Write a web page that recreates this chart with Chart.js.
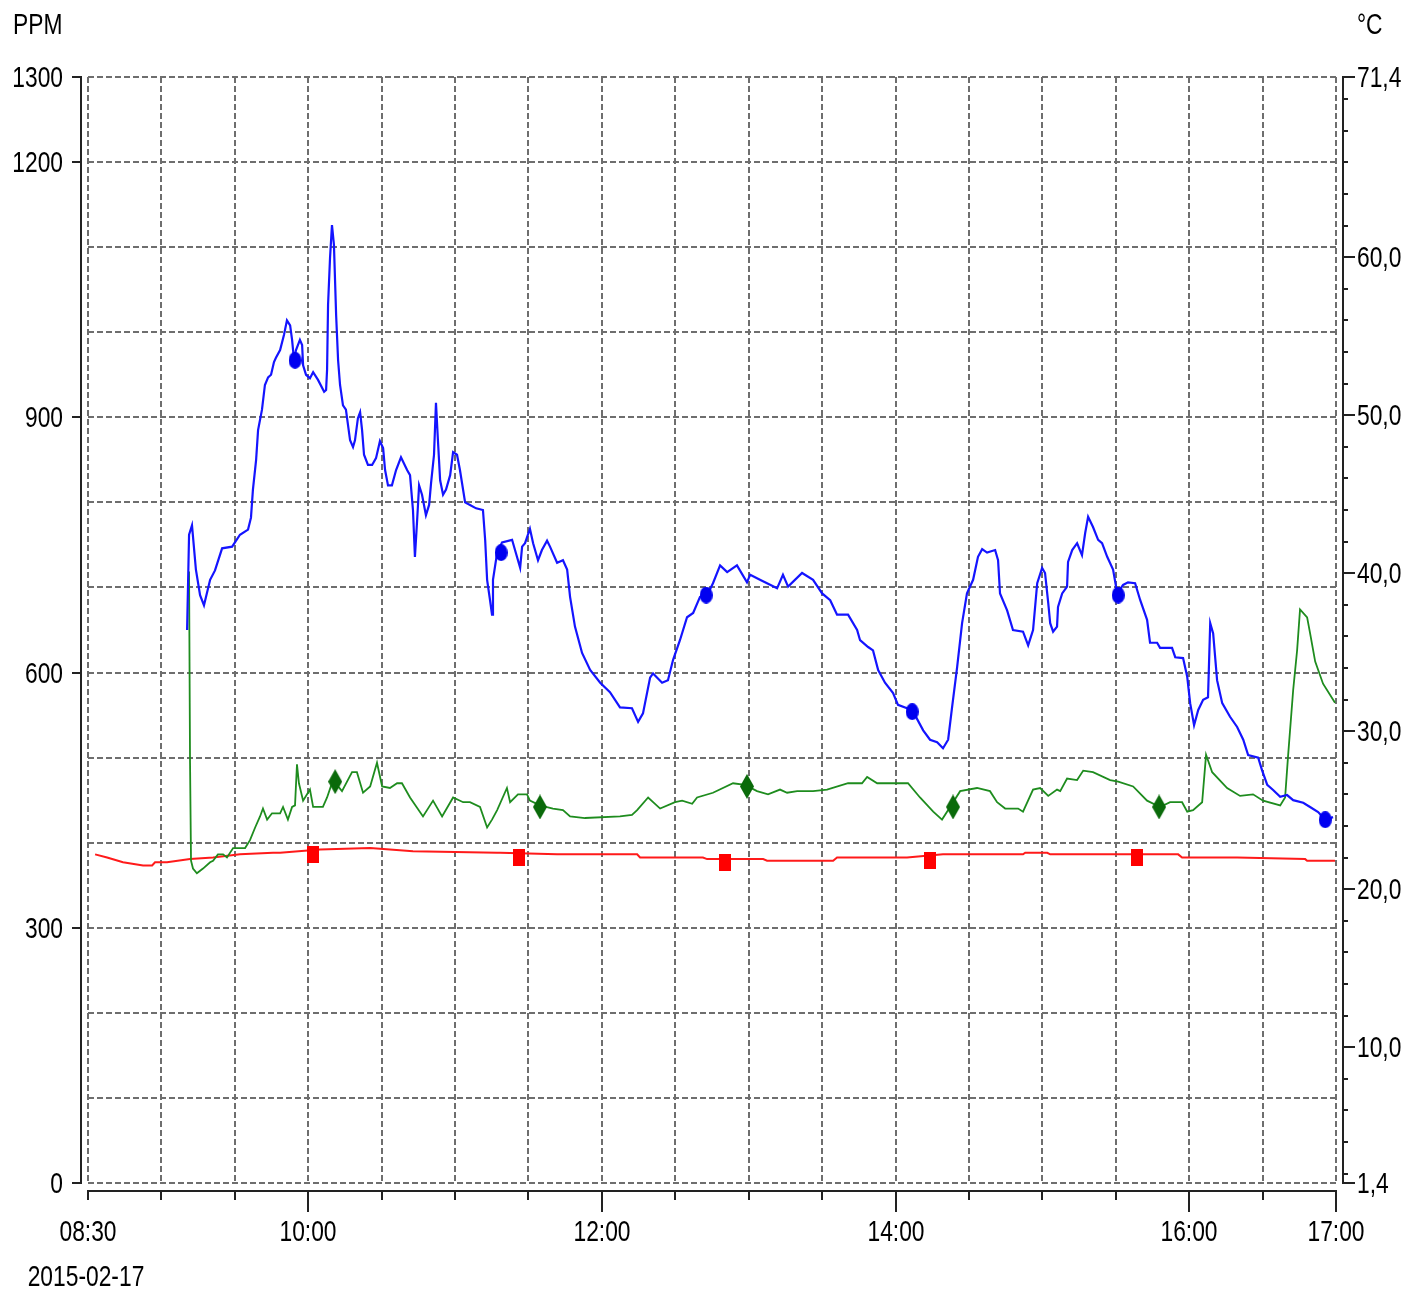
<!DOCTYPE html>
<html><head><meta charset="utf-8">
<script src="https://cdn.jsdelivr.net/npm/chart.js@4/dist/chart.umd.min.js"></script>
<style>html,body{margin:0;padding:0;background:#fff;}canvas{display:block;}</style>
</head><body>
<canvas id="c" width="1407" height="1296"></canvas>
<script>
// ---------- data (time = minutes after 08:30 on chartDate) ----------
const chartDate = '2015-02-17';
const xLabelMinutes = [0, 90, 210, 330, 450, 510];
const xLabelTexts = ['08:30', '10:00', '12:00', '14:00', '16:00', '17:00'];
const ppmLabelValues = [0, 300, 600, 900, 1200, 1300];
const tempLabelValues = [1.4, 10, 20, 30, 40, 50, 60, 71.4];

const co2Minutes = [40.5,41.3,42.5,44.1,45.8,47.4,49.9,51.9,54.8,58.9,62.1,65.4,66.6,67.4,68.7,69.5,71.1,72.3,73.6,74.8,76.0,76.8,78.5,80.1,81.3,82.6,83.4,84.2,85.0,86.6,87.5,87.9,89.1,90.7,92.0,94.0,96.5,97.3,97.7,98.1,98.9,99.7,100.5,101.4,102.2,103.0,104.2,105.4,107.1,108.3,109.1,110.3,111.2,112.0,112.8,114.4,116.1,117.7,119.3,120.6,121.4,122.6,124.2,125.9,127.9,130.4,131.6,132.8,133.6,134.5,135.3,136.5,138.1,139.4,140.2,141.4,142.2,143.0,143.9,145.1,146.3,148.0,149.2,150.8,152.0,154.1,156.1,158.6,161.4,162.3,163.1,164.3,165.1,165.5,167.2,169.2,173.3,174.5,176.6,177.4,178.6,180.6,181.9,183.9,185.5,187.6,188.8,191.7,194.1,195.8,197.0,199.0,201.9,205.2,209.3,213.3,217.4,222.3,224.8,226.8,229.7,230.9,234.6,237.0,239.1,241.9,244.8,247.3,250.1,253.0,255.4,258.3,261.2,265.2,269.3,270.6,274.6,281.6,284.0,286.1,291.8,296.3,300.0,303.3,306.1,310.6,314.3,315.5,318.8,320.8,322.9,325.7,329.0,331.0,334.7,337.2,341.3,344.1,347.0,349.4,351.5,353.1,355.2,357.2,359.2,361.7,363.7,365.4,367.4,370.7,371.9,372.7,375.6,378.0,382.1,384.2,386.2,387.9,389.9,391.1,392.4,393.2,394.4,396.0,396.4,398.1,400.1,400.5,402.2,404.2,406.2,407.5,408.7,410.7,412.8,414.4,416.5,418.9,420.6,423.0,425.0,427.9,430.0,432.8,434.0,436.9,438.1,443.0,444.3,447.5,449.2,450.4,452.0,453.7,455.7,457.7,458.6,459.8,461.4,463.5,466.7,469.6,472.1,474.1,478.2,479.8,481.9,484.3,487.2,490.0,492.5,496.6,499.4,502.7,505.6,508.8];
const co2Ppm = [650,762,773,721,691,679,709,720,746,748,762,768,782,815,850,885,909,938,947,950,965,970,979,997,1014,1008,991,967,979,991,985,961,950,946,953,944,930,932,956,1032,1087,1126,1103,1020,967,938,914,909,873,865,873,899,906,885,856,844,844,852,872,864,838,820,820,838,853,838,832,791,736,779,820,809,785,797,823,856,917,873,826,809,815,832,859,856,838,800,797,793,791,756,709,685,668,709,741,753,756,744,723,748,752,769,752,732,744,755,748,729,732,721,689,654,623,603,588,577,559,558,542,552,594,599,588,591,615,638,665,670,689,691,705,726,718,726,706,715,709,699,715,701,717,709,693,685,668,668,650,638,630,626,603,588,576,562,558,554,532,521,518,511,521,559,607,658,693,709,736,745,741,744,732,693,673,650,648,632,650,705,723,717,682,658,648,654,677,693,701,730,744,752,738,764,783,771,756,752,736,721,693,703,706,705,685,662,635,635,629,629,618,617,595,564,538,556,568,571,658,646,591,564,548,536,521,503,500,485,468,462,454,456,450,447,442,436,427,430];
const co2MarkMinutes = [84.6,168.8,252.6,336.8,421.0,505.6];
const co2MarkPpm = [967,741,691,554,691,427];

const greenMinutes = [41.3,41.7,42.1,42.9,44.5,47.0,49.9,51.1,53.1,55.2,56.8,59.3,64.2,66.2,68.3,70.3,71.5,73.2,75.2,78.5,79.7,81.7,83.4,84.6,85.4,86.2,87.9,90.7,92.0,96.0,97.7,100.1,103.8,107.9,109.9,112.4,115.3,118.1,120.2,123.4,126.3,128.3,131.6,136.9,141.0,144.7,149.2,153.3,156.1,160.2,163.1,165.1,167.2,171.2,172.5,175.7,179.4,180.6,184.7,190.0,194.1,197.0,203.1,217.4,222.3,224.4,228.9,233.8,239.9,242.8,246.9,248.9,255.4,263.6,268.5,273.4,277.9,282.8,285.7,289.8,296.3,302.0,310.6,316.3,318.4,322.5,329.0,335.1,340.0,345.4,349.0,352.3,356.4,363.3,368.6,371.5,374.8,380.1,382.1,386.2,389.1,392.4,396.0,397.3,400.1,404.2,406.7,410.7,417.7,421.0,427.1,432.8,438.1,442.2,447.1,449.2,451.6,455.3,456.9,459.4,465.5,470.8,476.1,480.2,487.2,489.2,490.4,492.5,494.1,495.3,498.2,499.4,501.5,504.7,509.6];
const greenTemp = [40.1,28.0,21.8,21.3,21.0,21.3,21.7,21.8,22.2,22.2,22.0,22.6,22.6,23.1,23.9,24.6,25.1,24.4,24.8,24.8,25.2,24.4,25.2,25.3,27.9,26.7,25.6,26.3,25.2,25.2,25.8,26.9,26.2,27.4,27.4,26.1,26.5,28.0,26.5,26.4,26.7,26.7,25.8,24.6,25.6,24.6,25.8,25.5,25.5,25.2,23.9,24.4,25.0,26.4,25.5,26.0,26.0,25.6,25.3,25.1,25.0,24.6,24.5,24.6,24.7,25.0,25.8,25.1,25.5,25.6,25.4,25.8,26.1,26.7,26.6,26.2,26.0,26.3,26.1,26.2,26.2,26.3,26.7,26.7,27.1,26.7,26.7,26.7,25.8,24.9,24.4,25.2,26.2,26.4,26.2,25.5,25.1,25.1,24.9,26.3,26.4,25.9,26.3,26.2,27.0,26.9,27.5,27.4,26.9,26.8,26.5,25.6,25.2,25.5,25.5,24.9,25.0,25.5,28.5,27.4,26.4,25.9,26.0,25.6,25.3,25.8,28.4,32.6,35.1,37.7,37.2,36.2,34.4,33.0,31.8];
const greenMarkMinutes = [101.0,184.7,269.3,353.5,437.7];
const greenMarkTemp = [26.8,25.2,26.5,25.2,25.2];

const redMinutes = [2.9,7.8,14.3,22.5,26.2,27.4,32.3,41.7,51.1,62.1,75.6,78.5,94.8,115.3,132.8,167.2,168.4,191.7,224.4,225.6,251.3,253.0,275.9,277.5,304.5,306.1,333.1,334.7,349.4,382.1,383.0,392.0,393.2,445.5,447.1,468.0,469.6,497.4,498.2,509.6];
const redTemp = [22.2,22.0,21.7,21.5,21.5,21.7,21.7,21.9,22.0,22.2,22.3,22.3,22.5,22.6,22.4,22.3,22.3,22.2,22.2,22.0,22.0,21.9,21.9,21.8,21.8,22.0,22.0,22.0,22.2,22.2,22.3,22.3,22.2,22.2,22.0,22.0,22.0,21.9,21.8,21.8];
const redMarkMinutes = [92.0,176.1,260.3,344.1,428.7];
const redMarkTemp = [22.2,22.0,21.7,21.8,22.0];

// ---------- styling ----------
const FONT = "'Liberation Sans', Arial, sans-serif";
const FSIZE = 30;
const SQUEEZE = 0.76;   // horizontally condensed lettering as in the reference
const AX = '#222';
const GRID = '#6e6e6e';

function pts(xs, ys) { return xs.map((x, i) => ({x: x, y: ys[i]})); }
function marker(kind, w, h, color) {
  const c = document.createElement('canvas'); c.width = w; c.height = h;
  const g = c.getContext('2d'); g.fillStyle = color; g.beginPath();
  if (kind === 'ellipse') g.ellipse(w/2, h/2, w/2, h/2, 0, 0, Math.PI*2);
  else if (kind === 'rect') g.rect(0, 0, w, h);
  else { g.moveTo(w/2, 0); g.lineTo(w, h/2); g.lineTo(w/2, h); g.lineTo(0, h/2); g.closePath(); }
  g.fill(); return c;
}
const blueMark = marker('ellipse', 13, 17, '#0000f0');
const redMark = marker('rect', 12, 17, '#ff0000');
const greenMark = marker('diamond', 14, 25, '#0a6a0a');

function label(ctx, txt, x, y, align) {
  ctx.save();
  ctx.translate(x, y); ctx.scale(SQUEEZE, 1);
  ctx.textAlign = align; ctx.textBaseline = 'middle';
  ctx.fillText(txt, 0, 0);
  ctx.restore();
}
const fmtTemp = v => v.toFixed(1).replace('.', ',');

const axisDecor = {
  id: 'axisDecor',
  afterDraw(chart) {
    const {ctx, chartArea: a, scales} = chart;
    const x = scales.x, y = scales.y, y2 = scales.y2;
    ctx.save();
    ctx.strokeStyle = AX; ctx.lineWidth = 2;
    ctx.fillStyle = '#000'; ctx.font = FSIZE + 'px ' + FONT;
    const line = (x1, y1, x2, y2_) => { ctx.beginPath(); ctx.moveTo(x1, y1); ctx.lineTo(x2, y2_); ctx.stroke(); };
    // left axis
    const lx = a.left - 7;
    line(lx, y.getPixelForValue(1300) - 1, lx, y.getPixelForValue(0) + 1);
    ppmLabelValues.forEach(v => {
      const p = Math.round(y.getPixelForValue(v));
      line(lx - 9, p, lx, p);
      label(ctx, String(v), a.left - 25, p + 2, 'right');
    });
    // right axis
    const rx = a.right + 7;
    line(rx, y2.getPixelForValue(71.4) - 1, rx, y2.getPixelForValue(1.4) + 1);
    y2.ticks.forEach(t => {
      const p = Math.round(y2.getPixelForValue(t.value));
      const major = tempLabelValues.some(v => Math.abs(v - t.value) < 1e-6);
      line(rx, p, rx + (major ? 12 : 5), p);
      if (major) label(ctx, fmtTemp(t.value), a.right + 21, p + 2, 'left');
    });
    // bottom axis
    const by = a.bottom + 8;
    line(x.getPixelForValue(0) - 1, by, x.getPixelForValue(510) + 1, by);
    x.ticks.forEach(t => {
      const m = t.value;
      const p = Math.round(x.getPixelForValue(m));
      const i = xLabelMinutes.indexOf(m);
      line(p, by, p, by + (i > 0 ? 21 : 9));
      if (i >= 0) label(ctx, xLabelTexts[i], p, a.bottom + 50, 'center');
      if (i === 0) label(ctx, chartDate, p - 2, a.bottom + 95, 'center');
    });
    // unit titles
    label(ctx, 'PPM', 13, 26, 'left');
    label(ctx, '°C', 1357, 26, 'left');
    ctx.restore();
  }
};

new Chart(document.getElementById('c'), {
  type: 'line',
  data: {
    datasets: [
      {data: pts(co2MarkMinutes, co2MarkPpm), yAxisID: 'y', showLine: false, pointStyle: blueMark, pointRadius: 8, order: 0},
      {data: pts(greenMarkMinutes, greenMarkTemp), yAxisID: 'y2', showLine: false, pointStyle: greenMark, pointRadius: 8, order: 0},
      {data: pts(redMarkMinutes, redMarkTemp), yAxisID: 'y2', showLine: false, pointStyle: redMark, pointRadius: 8, order: 0},
      {data: pts(co2Minutes, co2Ppm), yAxisID: 'y', borderColor: '#1414ff', borderWidth: 2.2, pointRadius: 0, tension: 0, order: 1},
      {data: pts(greenMinutes, greenTemp), yAxisID: 'y2', borderColor: '#1e8c1e', borderWidth: 1.8, pointRadius: 0, tension: 0, order: 2},
      {data: pts(redMinutes, redTemp), yAxisID: 'y2', borderColor: '#ff1a1a', borderWidth: 2, pointRadius: 0, tension: 0, order: 3}
    ]
  },
  options: {
    responsive: false, animation: false, events: [],
    layout: {padding: {top: 77, left: 0, right: 0, bottom: 0}},
    plugins: {legend: {display: false}, tooltip: {enabled: false}},
    scales: {
      x: {
        type: 'linear', min: 0, max: 510,
        afterBuildTicks: s => { const t = []; for (let m = 0; m <= 510; m += 30) t.push({value: m}); s.ticks = t; },
        afterFit: s => { s.height = 113; },
        ticks: {display: false},
        grid: {color: GRID, lineWidth: 2, drawTicks: false},
        border: {display: false, dash: [6, 3]}
      },
      y: {
        position: 'left', min: 0, max: 1300,
        afterBuildTicks: s => { const t = []; for (let v = 0; v <= 1300; v += 100) t.push({value: v}); s.ticks = t; },
        afterFit: s => { s.width = 88; },
        ticks: {display: false},
        grid: {color: GRID, lineWidth: 2, drawTicks: false},
        border: {display: false, dash: [6, 3]}
      },
      y2: {
        position: 'right', min: 1.4, max: 71.4,
        afterBuildTicks: s => { const t = [{value: 1.4}]; for (let v = 2; v <= 70; v += 2) t.push({value: v}); t.push({value: 71.4}); s.ticks = t; },
        afterFit: s => { s.width = 71; },
        ticks: {display: false},
        grid: {display: false, drawTicks: false},
        border: {display: false}
      }
    }
  },
  plugins: [axisDecor]
});
</script>
</body></html>
